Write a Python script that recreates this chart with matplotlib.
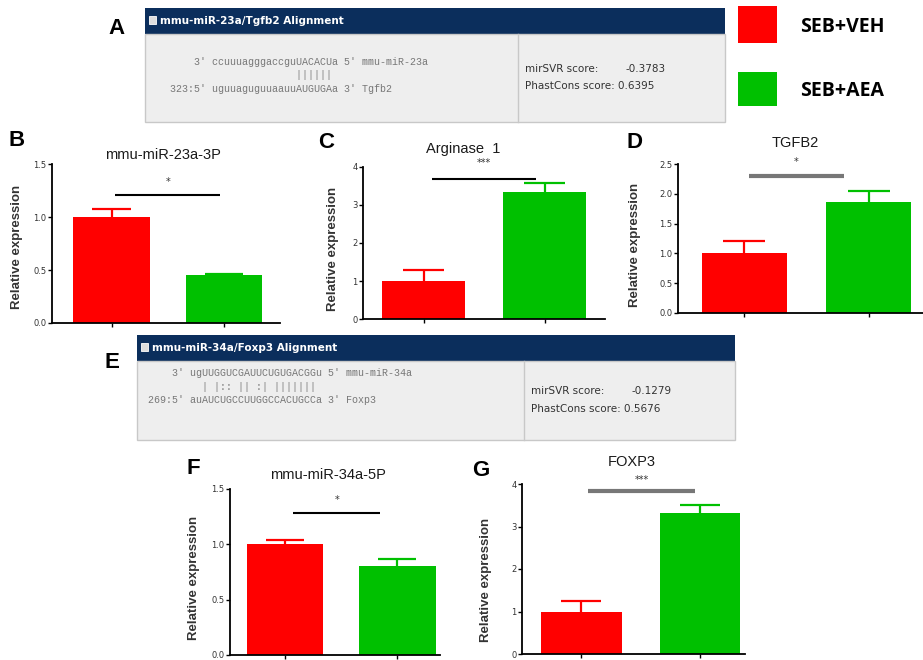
import matplotlib
matplotlib.use("Agg")
import matplotlib.pyplot as plt
from matplotlib.patches import Rectangle

W, H = 923, 660
RED = "#FF0000"
GREEN = "#00C000"

# qPCR panels: mean and upper SEM for SEB+VEH / SEB+AEA
groups = ["SEB+VEH", "SEB+AEA"]
mir23a_mean = [1.00, 0.45]
mir23a_err = [0.08, 0.01]
arg1_mean = [1.00, 3.35]
arg1_err = [0.30, 0.22]
tgfb2_mean = [1.00, 1.87]
tgfb2_err = [0.20, 0.18]
mir34a_mean = [1.00, 0.80]
mir34a_err = [0.04, 0.07]
foxp3_mean = [1.00, 3.32]
foxp3_err = [0.25, 0.18]

# alignment boxes
align_a = ["    3' ccuuuagggaccguUACACUa 5' mmu-miR-23a",
           "                     ||||||",
           "323:5' uguuaguguuaauuAUGUGAa 3' Tgfb2"]
align_e = ["    3' ugUUGGUCGAUUCUGUGACGGu 5' mmu-miR-34a",
           "         | |:: || :| |||||||",
           "269:5' auAUCUGCCUUGGCCACUGCCa 3' Foxp3"]

fig = plt.figure(figsize=(W / 100, H / 100), dpi=100)
bg = fig.add_axes([0, 0, 1, 1])
bg.set_xlim(0, W)
bg.set_ylim(H, 0)
bg.axis("off")


def alignment_box(x0, x1, y0, yh, y1, xdiv, title, lines, svr, phast, lx, ly):
    bg.add_patch(Rectangle((x0, y0), x1 - x0, yh - y0, facecolor="#0B2E5C", edgecolor="none"))
    bg.add_patch(Rectangle((x0, yh), x1 - x0, y1 - yh, facecolor="#EEEEEE",
                           edgecolor="#C8C8C8", linewidth=1.0))
    bg.plot([xdiv, xdiv], [yh, y1], color="#C8C8C8", linewidth=1.0)
    bg.add_patch(Rectangle((x0 + 4, y0 + 8), 7, 8, facecolor="#DDDDDD", edgecolor="white", linewidth=0.6))
    bg.text(x0 + 15, (y0 + yh) / 2, title, color="white", fontsize=7.5, fontweight="bold",
            va="center", ha="left", family="DejaVu Sans")
    for i, line in enumerate(lines):
        bg.text(lx, ly + i * 13.5, line, family="Liberation Mono", fontsize=7.2,
                color="#777777", va="center", ha="left")
    mid = (yh + y1) / 2
    bg.text(xdiv + 7, mid - 9, "mirSVR score:", fontsize=7.5, color="#333333", va="center")
    bg.text(xdiv + 107, mid - 9, svr, fontsize=7.5, color="#333333", va="center")
    bg.text(xdiv + 7, mid + 8, "PhastCons score: " + phast, fontsize=7.5, color="#333333", va="center")


alignment_box(145, 725, 8, 34, 122, 518, "mmu-miR-23a/Tgfb2 Alignment",
              align_a, "-0.3783", "0.6395", 170, 62)
alignment_box(137, 735, 335, 361, 440, 524, "mmu-miR-34a/Foxp3 Alignment",
              align_e, "-0.1279", "0.5676", 148, 373)

# legend squares
bg.add_patch(Rectangle((738, 6), 39, 37, facecolor=RED, edgecolor="none"))
bg.add_patch(Rectangle((738, 72), 39, 34, facecolor=GREEN, edgecolor="none"))
bg.text(800, 27, groups[0], fontsize=14, fontweight="bold", family="Open Sans", va="center")
bg.text(800, 91, groups[1], fontsize=14, fontweight="bold", family="Open Sans", va="center")

letters = [("A", 108, 28), ("B", 8, 140), ("C", 318, 142), ("D", 626, 142),
           ("E", 104, 362), ("F", 186, 468), ("G", 472, 470)]
for s, x, y in letters:
    bg.text(x, y, s, fontsize=16, fontweight="bold", family="Liberation Sans",
            va="center", ha="left")


def bar_panel(px0, px1, py_top, py_bot, xlim, ymax, yticks, fmt, mean, err, title,
              title_y, sig, sig_y, sig_x, star_y, sig_color, sig_lw, ylab_x, ylab_y):
    ax = fig.add_axes([px0 / W, 1 - py_bot / H, (px1 - px0) / W, (py_bot - py_top) / H])
    ax.set_zorder(2)
    ax.patch.set_alpha(0)
    x = [0, 1]
    ax.bar(x, mean, width=0.68, color=[RED, GREEN], zorder=2)
    # one-sided error bars: stem plus a cap on top only
    for xi, m, e, c in zip(x, mean, err, [RED, GREEN]):
        ax.vlines(xi, m, m + e, color=c, linewidth=1.6, zorder=1)
        ax.hlines(m + e, xi - 0.17, xi + 0.17, color=c, linewidth=1.6, zorder=1)
    ax.set_xlim(*xlim)
    ax.set_ylim(0, ymax)
    ax.set_yticks(yticks)
    ax.set_yticklabels([fmt.format(t) for t in yticks], fontsize=6, color="#333333")
    ax.set_xticks(x)
    ax.set_xticklabels([])
    ax.tick_params(axis="both", direction="out", length=3, width=1.0, pad=1)
    for side in ("top", "right"):
        ax.spines[side].set_visible(False)
    for side in ("left", "bottom"):
        ax.spines[side].set_linewidth(1.3)
    ax.plot(sig_x, [sig_y, sig_y], color=sig_color, linewidth=sig_lw, clip_on=False,
            solid_capstyle="butt")
    ax.text(sum(sig_x) / 2, star_y, sig, ha="center", va="center", fontsize=7,
            color="#333333", clip_on=False)
    bg.text(title[1], title_y, title[0], fontsize=10.5, ha="center", va="center",
            family="Liberation Sans", color="#1A1A1A")
    bg.text(ylab_x, ylab_y, "Relative expression", rotation=90,
            fontsize=9.5, fontweight="bold", family="Liberation Sans",
            ha="center", va="center", color="#333333")
    return ax


bar_panel(52, 280, 164, 323, (-0.53, 1.50), 1.5, [0.0, 0.5, 1.0, 1.5], "{:.1f}",
          mir23a_mean, mir23a_err, ("mmu-miR-23a-3P", 163), 155,
          "*", 1.21, [0.03, 0.97], 1.33, "black", 1.5, 17, 247)
bar_panel(363, 605, 167, 319, (-0.50, 1.50), 4, [0, 1, 2, 3, 4], "{:d}",
          arg1_mean, arg1_err, ("Arginase  1", 463), 149,
          "***", 3.68, [0.07, 0.93], 4.1, "black", 1.5, 333, 249)
bar_panel(678, 930, 164, 313, (-0.53, 1.49), 2.5, [0.0, 0.5, 1.0, 1.5, 2.0, 2.5], "{:.1f}",
          tgfb2_mean, tgfb2_err, ("TGFB2", 795), 143,
          "*", 2.30, [0.04, 0.80], 2.53, "#777777", 3.0, 635, 245)
bar_panel(230, 440, 489, 655, (-0.49, 1.38), 1.5, [0.0, 0.5, 1.0, 1.5], "{:.1f}",
          mir34a_mean, mir34a_err, ("mmu-miR-34a-5P", 328), 475,
          "*", 1.28, [0.07, 0.85], 1.40, "black", 1.5, 194, 578)
bar_panel(522, 745, 484, 654, (-0.50, 1.38), 4, [0, 1, 2, 3, 4], "{:d}",
          foxp3_mean, foxp3_err, ("FOXP3", 632), 462,
          "***", 3.84, [0.06, 0.96], 4.09, "#777777", 3.0, 486, 580)

fig.savefig("out.png", dpi=100)
